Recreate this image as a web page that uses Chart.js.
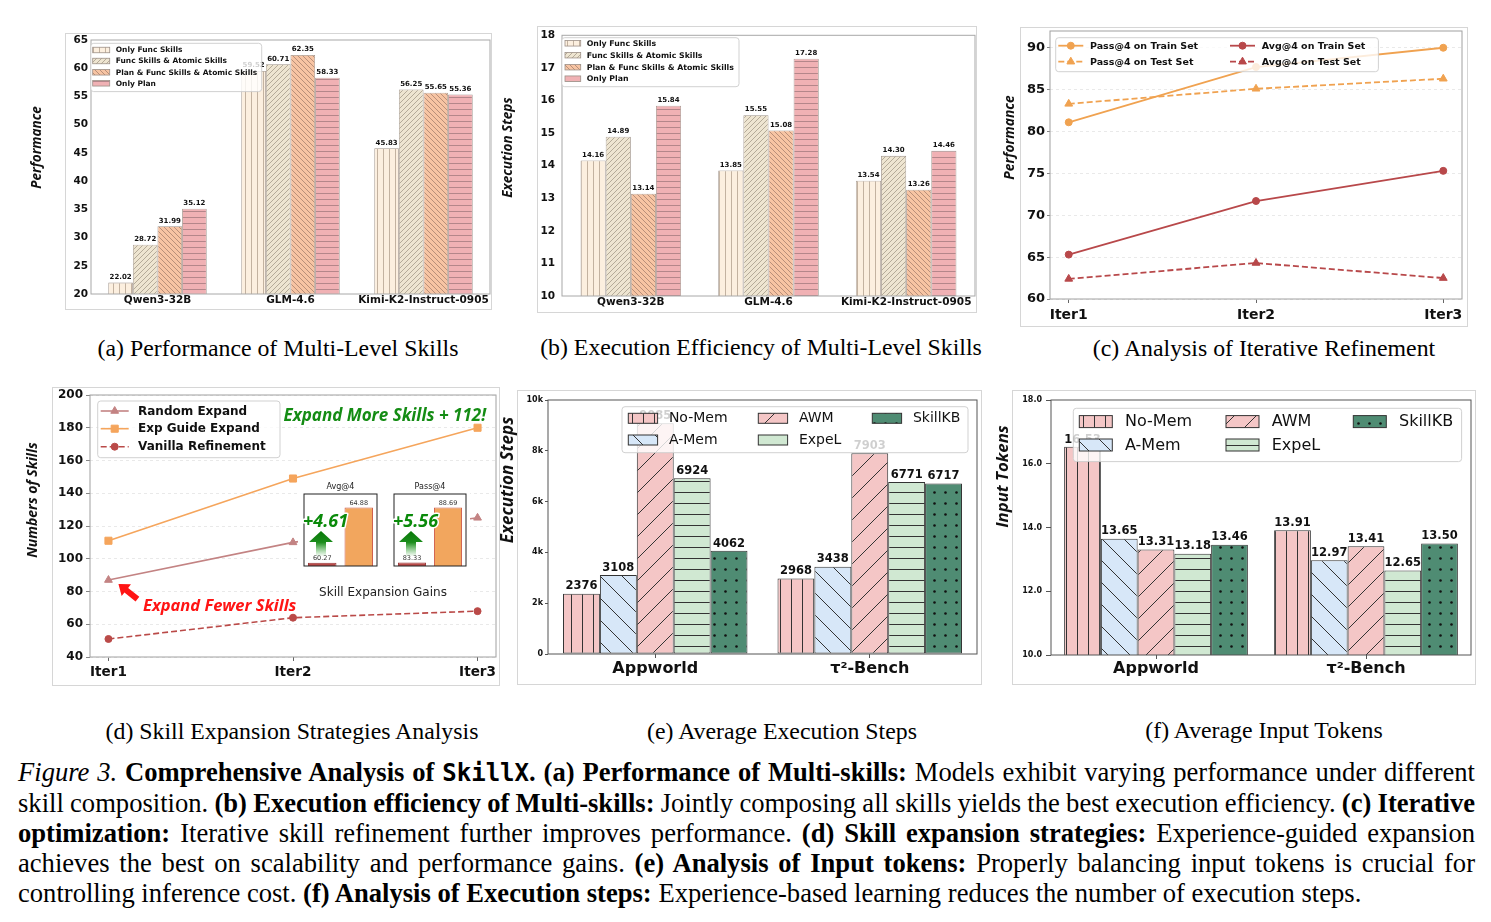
<!DOCTYPE html>
<html>
<head>
<meta charset="utf-8">
<script src="https://cdn.jsdelivr.net/npm/chart.js@4.4.1/dist/chart.umd.min.js"></script>
<style>
    body { margin: 0; background: #fff; width: 1491px; height: 922px; position: relative; overflow: hidden; }
    canvas { position: absolute; }
    .frame { position: absolute; border: 1px solid #d6d6d6; box-sizing: border-box; }
    .sub { position: absolute; font-family: 'Liberation Serif'; font-size: 23.8px; line-height: 26px; white-space: nowrap; transform: translateX(-50%); color: #000; }
    #cap { position: absolute; left: 18px; top: 757px; width: 1457px; font-family: 'Liberation Serif'; font-size: 26.6px; line-height: 30px; color: #000; }
    #cap div { white-space: nowrap; }
    .mono { font-family: 'DejaVu Sans Mono'; font-size: 24px; }
</style>
</head>
<body>

<div class="sub" style="left:278px;top:335px">(a) Performance of Multi-Level Skills</div>
<div class="sub" style="left:761px;top:334px">(b) Execution Efficiency of Multi-Level Skills</div>
<div class="sub" style="left:1264px;top:335px">(c) Analysis of Iterative Refinement</div>
<div class="sub" style="left:292px;top:718px">(d) Skill Expansion Strategies Analysis</div>
<div class="sub" style="left:782px;top:718px">(e) Average Execution Steps</div>
<div class="sub" style="left:1264px;top:717px">(f) Average Input Tokens</div>

<div id="cap">
    <div class="jl"><i>Figure 3.</i> <b>Comprehensive Analysis of <span class="mono">SkillX</span>. (a) Performance of Multi-skills:</b> Models exhibit varying performance under different</div>
    <div class="jl">skill composition. <b>(b) Execution efficiency of Multi-skills:</b> Jointly composing all skills yields the best execution efficiency. <b>(c) Iterative</b></div>
    <div class="jl"><b>optimization:</b> Iterative skill refinement further improves performance. <b>(d) Skill expansion strategies:</b> Experience-guided expansion</div>
    <div class="jl">achieves the best on scalability and performance gains. <b>(e) Analysis of Input tokens:</b> Properly balancing input tokens is crucial for</div>
    <div>controlling inference cost. <b>(f) Analysis of Execution steps:</b> Experience-based learning reduces the number of execution steps.</div>
</div>

<script>
// ---- data ----
const models = ['Qwen3-32B', 'GLM-4.6', 'Kimi-K2-Instruct-0905'];
const skillSets = ['Only Func Skills', 'Func Skills & Atomic Skills', 'Plan & Func Skills & Atomic Skills', 'Only Plan'];
const perfOnlyFunc = [22.02, 59.52, 45.83];
const perfFuncAtomic = [28.72, 60.71, 56.25];
const perfPlanFuncAtomic = [31.99, 62.35, 55.65];
const perfOnlyPlan = [35.12, 58.33, 55.36];
const stepsOnlyFunc = [14.16, 13.85, 13.54];
const stepsFuncAtomic = [14.89, 15.55, 14.30];
const stepsPlanFuncAtomic = [13.14, 15.08, 13.26];
const stepsOnlyPlan = [15.84, 17.28, 14.46];

const iters = ['Iter1', 'Iter2', 'Iter3'];
const refineNames = ['Pass@4 on Train Set', 'Pass@4 on Test Set', 'Avg@4 on Train Set', 'Avg@4 on Test Set'];
const passTrain = [81.1, 87.7, 90.0];
const passTest = [83.3, 85.1, 86.3];
const avgTrain = [65.3, 71.7, 75.3];
const avgTest = [62.4, 64.3, 62.5];

const expandNames = ['Random Expand', 'Exp Guide Expand', 'Vanilla Refinement'];
const randomExpand = [87, 110, 125];
const expGuideExpand = [111, 149, 180];
const vanillaRefine = [51, 64, 68];
const gainMetrics = ['Avg@4', 'Pass@4'];
const gainBefore = [60.27, 83.33];
const gainAfter = [64.88, 88.69];
const gainText = ['+4.61', '+5.56'];
const noteMore = 'Expand More Skills + 112!';
const noteFewer = 'Expand Fewer Skills';
const noteGains = 'Skill Expansion Gains';

const benches = ['Appworld', 'τ²-Bench'];
const memNames = ['No-Mem', 'A-Mem', 'AWM', 'ExpeL', 'SkillKB'];
const stepsNoMem = [2376, 2968];
const stepsAMem = [3108, 3438];
const stepsAWM = [9085, 7903];
const stepsExpeL = [6924, 6771];
const stepsSkillKB = [4062, 6717];
const tokNoMem = [16.53, 13.91];
const tokAMem = [13.65, 12.97];
const tokAWM = [13.31, 13.41];
const tokExpeL = [13.18, 12.65];
const tokSkillKB = [13.46, 13.50];

const FONT = 'DejaVu Sans';

// justify caption lines by spreading the spaces
document.querySelectorAll('#cap .jl').forEach(line => {
    line.style.display = 'inline-block';
    const w = line.getBoundingClientRect().width;
    line.style.display = 'block';
    const spaces = (line.textContent.match(/ /g) || []).length;
    if (spaces) line.style.wordSpacing = ((1457 - w) / spaces) + 'px';
});

function hatch(kind, bg, ink, step, lw) {
    const c = document.createElement('canvas');
    c.width = step; c.height = step;
    const g = c.getContext('2d');
    g.fillStyle = bg; g.fillRect(0, 0, step, step);
    g.strokeStyle = ink; g.fillStyle = ink; g.lineWidth = lw;
    g.beginPath();
    const m = Math.floor(step / 2) + 0.5;
    if (kind === '|') { g.moveTo(m, 0); g.lineTo(m, step); }
    if (kind === '-') { g.moveTo(0, m); g.lineTo(step, m); }
    if (kind === '/') { for (const o of [-step, 0, step]) { g.moveTo(o, step); g.lineTo(o + step, 0); } }
    if (kind === '\\') { for (const o of [-step, 0, step]) { g.moveTo(o, 0); g.lineTo(o + step, step); } }
    if (kind === '.') { g.arc(step / 2, step / 2, lw, 0, Math.PI * 2); g.fill(); }
    else g.stroke();
    return g.createPattern(c, 'repeat');
}

function place(box) {
    const c = document.createElement('canvas');
    c.width = box[2]; c.height = box[3];
    c.style.left = box[0] + 'px'; c.style.top = box[1] + 'px';
    document.body.appendChild(c);
    return c;
}

function addFrame(r) {
    const d = document.createElement('div');
    d.className = 'frame';
    d.style.cssText = `left:${r[0]}px;top:${r[1]}px;width:${r[2]}px;height:${r[3]}px`;
    document.body.appendChild(d);
}

function fitTo(box, plot) {
    return {
        padding: { top: plot[1] - box[1], right: box[0] + box[2] - plot[2], left: 0, bottom: 0 },
        yWidth: plot[0] - box[0],
        xHeight: box[1] + box[3] - plot[3]
    };
}

function drawLegend(ctx, L) {
    ctx.save();
    ctx.fillStyle = 'rgba(255,255,255,0.8)';
    ctx.strokeStyle = 'rgba(204,204,204,0.9)';
    ctx.lineWidth = 1;
    ctx.beginPath();
    ctx.roundRect(L.x, L.y, L.w, L.h, 3);
    ctx.fill(); ctx.stroke();
    ctx.font = L.font;
    ctx.textAlign = 'left';
    ctx.textBaseline = 'middle';
    L.items.forEach((it, i) => {
        const col = Math.floor(i / L.rows), row = i % L.rows;
        const x = L.x + L.colX[col], y = L.y + L.rowY[row];
        if (it.fill) {
            ctx.fillStyle = it.fill;
            ctx.fillRect(x, y - L.sh / 2, L.sw, L.sh);
            ctx.strokeStyle = it.edge; ctx.lineWidth = it.edgeWidth;
            ctx.strokeRect(x, y - L.sh / 2, L.sw, L.sh);
        } else {
            ctx.strokeStyle = it.color; ctx.lineWidth = it.width;
            ctx.setLineDash(it.dash || []);
            ctx.beginPath(); ctx.moveTo(x, y); ctx.lineTo(x + L.sw, y); ctx.stroke();
            ctx.setLineDash([]);
            ctx.fillStyle = it.color; ctx.lineWidth = 1;
            Chart.helpers.drawPoint(ctx, { pointStyle: it.marker, radius: it.radius, borderWidth: 1 }, x + L.sw / 2, y);
        }
        ctx.fillStyle = '#111';
        ctx.fillText(it.text, x + L.sw + L.gap, y + 0.5);
    });
    ctx.restore();
}

// frame of the axes, value labels, titles, legend
function decor(p) {
    return {
        id: 'decor',
        beforeDatasetsDraw(chart) {
            if (!p.plotBg) return;
            const a = chart.chartArea;
            chart.ctx.save();
            chart.ctx.fillStyle = p.plotBg;
            chart.ctx.fillRect(a.left, a.top, a.right - a.left, a.bottom - a.top);
            chart.ctx.restore();
        },
        afterDatasetsDraw(chart) {
            const ctx = chart.ctx, a = chart.chartArea;
            ctx.save();
            if (p.spine) {
                ctx.strokeStyle = p.spine; ctx.lineWidth = p.spineWidth || 1;
                ctx.strokeRect(a.left, a.top, a.right - a.left, a.bottom - a.top);
            }
            if (p.values) {
                ctx.font = p.values.font; ctx.fillStyle = p.values.color || '#111';
                ctx.textAlign = 'center'; ctx.textBaseline = 'bottom';
                chart.data.datasets.forEach((ds, i) => {
                    chart.getDatasetMeta(i).data.forEach((el, j) => {
                        ctx.fillText(p.values.fmt(ds.data[j]), el.x, el.y - p.values.gap);
                    });
                });
            }
            ctx.restore();
        },
        afterDraw(chart) {
            const ctx = chart.ctx;
            ctx.save();
            ctx.translate(-p.box[0], -p.box[1]);
            if (p.extra) { ctx.save(); p.extra(chart, ctx); ctx.restore(); }
            if (p.yTitle) {
                ctx.save();
                ctx.font = `italic bold ${p.yTitle.size}px "Open Sans"`;
                ctx.fillStyle = '#111';
                ctx.translate(p.yTitle.x, p.yTitle.y);
                ctx.rotate(-Math.PI / 2);
                ctx.textAlign = 'center'; ctx.textBaseline = 'middle';
                ctx.fillText(p.yTitle.text, 0, 0);
                ctx.restore();
            }
            if (p.legend) drawLegend(ctx, p.legend);
            ctx.restore();
        }
    };
}

const baseOpts = {
    responsive: false, animation: false, events: [], devicePixelRatio: 1,
    plugins: { legend: { display: false }, tooltip: { enabled: false } }
};

function barPanel(p) {
    addFrame(p.frame);
    const fit = fitTo(p.box, p.plot);
    new Chart(place(p.box), {
        type: 'bar',
        data: {
            labels: p.labels,
            datasets: p.series.map(s => ({
                label: s.name, data: s.data, backgroundColor: s.fill,
                borderColor: p.edge, borderWidth: p.edgeWidth, borderSkipped: false,
                categoryPercentage: p.catPct, barPercentage: 1
            }))
        },
        options: {
            ...baseOpts,
            layout: { padding: fit.padding },
            scales: {
                x: {
                    grid: { drawOnChartArea: false, drawTicks: p.xTick > 0, tickLength: p.xTick, tickColor: p.spine, offset: false },
                    border: { display: false },
                    ticks: { color: '#111', font: { family: FONT, size: p.xFont, weight: 'bold' }, padding: p.xPad, maxRotation: 0, autoSkip: false },
                    afterFit: s => { s.height = fit.xHeight; }
                },
                y: {
                    min: p.yMin, max: p.yMax,
                    grid: { drawOnChartArea: false, drawTicks: p.yTick > 0, tickLength: p.yTick, tickColor: p.spine },
                    border: { display: false },
                    ticks: { stepSize: p.yStep, callback: p.yFmt, color: '#111', font: { family: FONT, size: p.yFont, weight: 'bold' }, padding: p.yPad },
                    afterFit: s => { s.width = fit.yWidth; }
                }
            }
        },
        plugins: [decor(p)]
    });
}

function linePanel(p) {
    addFrame(p.frame);
    const fit = fitTo(p.box, p.plot);
    return new Chart(place(p.box), {
        type: 'line',
        data: {
            datasets: p.series.map(s => ({
                label: s.name, data: s.data.map((v, i) => ({ x: i, y: v })),
                borderColor: s.color, backgroundColor: s.color, borderWidth: s.width,
                borderDash: s.dash || [], pointStyle: s.marker, pointRadius: s.radius,
                pointBackgroundColor: s.color, pointBorderColor: s.color, pointBorderWidth: 1,
                tension: 0, fill: false
            }))
        },
        options: {
            ...baseOpts,
            layout: { padding: fit.padding },
            scales: {
                x: {
                    type: 'linear', min: -0.1, max: 2.1,
                    grid: { drawOnChartArea: false, tickLength: 4, tickColor: '#666' },
                    border: { display: false },
                    ticks: { stepSize: 1, includeBounds: false, callback: v => Number.isInteger(v) ? iters[v] : '',
                        color: '#111', font: { family: FONT, size: p.xFont, weight: 'bold' }, padding: p.xPad, maxRotation: 0 },
                    afterFit: s => { s.height = fit.xHeight; }
                },
                y: {
                    min: p.yMin, max: p.yMax,
                    grid: { color: '#e4e4e4', lineWidth: 0.8, tickLength: p.yTick, tickColor: '#666' },
                    border: { display: false, dash: [3, 3] },
                    ticks: { stepSize: p.yStep, includeBounds: false, color: '#111', font: { family: FONT, size: p.yFont, weight: 'bold' }, padding: p.yPad },
                    afterFit: s => { s.width = fit.yWidth; }
                }
            }
        },
        plugins: [decor(p)]
    });
}

function arrow(ctx, x0, y0, x1, y1, sw, hw, hl) {
    const len = Math.hypot(x1 - x0, y1 - y0);
    const ux = (x1 - x0) / len, uy = (y1 - y0) / len, nx = -uy, ny = ux;
    const bx = x1 - ux * hl, by = y1 - uy * hl;
    ctx.beginPath();
    ctx.moveTo(x0 + nx * sw / 2, y0 + ny * sw / 2);
    ctx.lineTo(bx + nx * sw / 2, by + ny * sw / 2);
    ctx.lineTo(bx + nx * hw / 2, by + ny * hw / 2);
    ctx.lineTo(x1, y1);
    ctx.lineTo(bx - nx * hw / 2, by - ny * hw / 2);
    ctx.lineTo(bx - nx * sw / 2, by - ny * sw / 2);
    ctx.lineTo(x0 - nx * sw / 2, y0 - ny * sw / 2);
    ctx.closePath();
    ctx.fill();
}

// ---- (a) / (b) hatches ----
const fOnlyFunc = hatch('|', '#fcefdf', '#b4a28f', 6, 0.8);
const fFuncAtomic = hatch('/', '#eee5d1', '#a49b89', 5, 0.8);
const fPlanFuncAtomic = hatch('\\', '#f7c4a3', '#a7826e', 5, 0.8);
const fOnlyPlan = hatch('-', '#f0b1b4', '#a47b7f', 6, 0.8);
const skillFills = [fOnlyFunc, fFuncAtomic, fPlanFuncAtomic, fOnlyPlan];
const skillLegendItems = skillSets.map((t, i) => ({ text: t, fill: skillFills[i], edge: '#9d9188', edgeWidth: 0.8 }));

barPanel({
    box: [20, 28, 478, 290], plot: [91, 40, 490, 294], frame: [65, 33, 427, 277],
    labels: models,
    series: [perfOnlyFunc, perfFuncAtomic, perfPlanFuncAtomic, perfOnlyPlan].map((d, i) => ({ name: skillSets[i], data: d, fill: skillFills[i] })),
    catPct: 0.74, edge: '#9d9188', edgeWidth: 0.8, spine: '#a8a8a8',
    yMin: 20, yMax: 65, yStep: 5, yFont: 10.5, yTick: 0, yPad: 3,
    xFont: 10.5, xTick: 0, xPad: 0,
    values: { font: `bold 7px ${FONT}`, gap: 2, fmt: v => v.toFixed(2) },
    yTitle: { text: 'Performance', x: 37, y: 147.5, size: 13.5 },
    legend: { x: 90.7, y: 43.3, w: 171, h: 48.3, rows: 4, colX: [2], rowY: [6.7, 17.7, 29, 40], sw: 17, sh: 5.5, gap: 6, font: `bold 7.5px ${FONT}`, items: skillLegendItems }
});

barPanel({
    box: [500, 22, 480, 295], plot: [562, 34, 975, 296], frame: [537, 26, 440, 287],
    labels: models,
    series: [stepsOnlyFunc, stepsFuncAtomic, stepsPlanFuncAtomic, stepsOnlyPlan].map((d, i) => ({ name: skillSets[i], data: d, fill: skillFills[i] })),
    catPct: 0.73, edge: '#9d9188', edgeWidth: 0.8, spine: '#a8a8a8',
    yMin: 10, yMax: 18, yStep: 1, yFont: 10.5, yTick: 0, yPad: 7,
    xFont: 10.5, xTick: 0, xPad: 0,
    values: { font: `bold 7px ${FONT}`, gap: 2, fmt: v => v.toFixed(2) },
    yTitle: { text: 'Execution Steps', x: 508, y: 147.5, size: 13.5 },
    legend: { x: 561.7, y: 37.7, w: 177.3, h: 49, rows: 4, colX: [3.3], rowY: [5.6, 17.5, 29.5, 41], sw: 15.7, sh: 5.5, gap: 6, font: `bold 7.8px ${FONT}`, items: skillLegendItems }
});

// ---- (c) iterative refinement ----
const cOrange = '#f0a250', cRed = '#b8484a';
const refineStyles = [
    { color: cOrange, marker: 'circle', radius: 3.5 },
    { color: cOrange, marker: 'triangle', radius: 4.5, dash: [6, 3] },
    { color: cRed, marker: 'circle', radius: 3.5 },
    { color: cRed, marker: 'triangle', radius: 4.5, dash: [6, 3] }
];
linePanel({
    box: [995, 18, 478, 312], plot: [1050, 31, 1462, 299], frame: [1020, 27, 448, 300],
    series: [passTrain, passTest, avgTrain, avgTest].map((d, i) => ({ name: refineNames[i], data: d, width: 1.8, ...refineStyles[i] })),
    spine: '#a0a0a0',
    yMin: 60, yMax: 92, yStep: 5, yFont: 13, yTick: 3, yPad: 2,
    xFont: 14, xPad: 3.6,
    yTitle: { text: 'Performance', x: 1010, y: 137.5, size: 13.8 },
    legend: { x: 1055.7, y: 37.7, w: 322.7, h: 34, rows: 2, colX: [2.6, 174.3], rowY: [8, 24], sw: 25, gap: 6.7, font: `bold 9.5px ${FONT}`,
        items: refineNames.map((t, i) => ({ text: t, width: 1.8, ...refineStyles[i] })) }
});

// ---- (d) skill expansion ----
const expandStyles = [
    { color: '#c38383', marker: 'triangle', radius: 4.5 },
    { color: '#f5a55c', marker: 'rect', radius: 5 },
    { color: '#ba4a48', marker: 'circle', radius: 3.5, dash: [6, 3] }
];
const boxD = [20, 382, 482, 304];
linePanel({
    box: boxD, plot: [90, 395, 496, 657], frame: [52, 387, 448, 299],
    series: [randomExpand, expGuideExpand, vanillaRefine].map((d, i) => ({ name: expandNames[i], data: d, width: 1.6, ...expandStyles[i] })),
    spine: '#a0a0a0',
    yMin: 40, yMax: 200, yStep: 20, yFont: 12, yTick: 4, yPad: 3,
    xFont: 13.6, xPad: 3,
    yTitle: { text: 'Numbers of Skills', x: 33, y: 500, size: 14 },
    legend: { x: 97.7, y: 401, w: 182.3, h: 56.7, rows: 3, colX: [3], rowY: [10, 27.7, 45.7], sw: 28, gap: 9.3, font: `bold 12px ${FONT}`,
        items: expandNames.map((t, i) => ({ text: t, width: 1.6, ...expandStyles[i] })) },
    extra(chart, ctx) {
        // white backdrop of the inset figure
        ctx.fillStyle = '#fff';
        ctx.fillRect(298, 478, 172, 124);
        ctx.font = 'italic bold 17px "Open Sans"';
        ctx.fillStyle = '#148c14'; ctx.textAlign = 'right'; ctx.textBaseline = 'middle';
        ctx.fillText(noteMore, 486, 416);
        ctx.font = 'italic bold 16.5px "Open Sans"';
        ctx.fillStyle = '#ff1414'; ctx.textAlign = 'left';
        ctx.fillText(noteFewer, 143, 606);
        const pt = chart.getDatasetMeta(0).data[0];
        const px = pt.x + boxD[0], py = pt.y + boxD[1];
        arrow(ctx, px + 29, py + 19, px + 10, py + 4, 6, 15, 10);
        ctx.font = `12px ${FONT}`; ctx.fillStyle = '#222'; ctx.textAlign = 'center';
        ctx.fillText(noteGains, 383, 593);
    }
});

function gainInset(i, box, plot, yMin, yMax) {
    const pad = { left: plot[0] - box[0], top: plot[1] - box[1], right: box[0] + box[2] - plot[2], bottom: box[1] + box[3] - plot[3] };
    new Chart(place(box), {
        type: 'bar',
        data: {
            labels: ['before', 'after'],
            datasets: [{
                data: [gainBefore[i], gainAfter[i]],
                backgroundColor: ['#b94a48', '#f2a65e'], borderColor: ['#9a3838', '#cf5e4c'], borderWidth: 1,
                categoryPercentage: 0.78, barPercentage: 1
            }]
        },
        options: {
            ...baseOpts,
            layout: { padding: pad },
            scales: { x: { display: false }, y: { display: false, min: yMin, max: yMax } }
        },
        plugins: [decor({
            box, spine: '#222', plotBg: '#fff',
            values: { font: `6.5px ${FONT}`, color: '#333', gap: 1, fmt: v => v.toFixed(2) },
            extra(chart, ctx) {
                const a = chart.chartArea, L = a.left + box[0], T = a.top + box[1];
                ctx.font = `8px ${FONT}`; ctx.fillStyle = '#222'; ctx.textAlign = 'center'; ctx.textBaseline = 'middle';
                ctx.fillText(gainMetrics[i], (L + a.right + box[0]) / 2, T - 7);
                const g = ctx.createLinearGradient(0, T + 37, 0, T + 62);
                g.addColorStop(0, '#087808'); g.addColorStop(0.45, '#1b8c1b'); g.addColorStop(1, 'rgba(60,170,60,0.05)');
                ctx.fillStyle = g;
                ctx.beginPath();
                ctx.moveTo(L + 17, T + 37);
                ctx.lineTo(L + 29, T + 48); ctx.lineTo(L + 22, T + 48); ctx.lineTo(L + 22, T + 62);
                ctx.lineTo(L + 12, T + 62); ctx.lineTo(L + 12, T + 48); ctx.lineTo(L + 5, T + 48);
                ctx.closePath(); ctx.fill();
                ctx.font = 'italic bold 18px "Open Sans"'; ctx.textAlign = 'left';
                ctx.lineWidth = 3; ctx.strokeStyle = '#fff'; ctx.lineJoin = 'round';
                ctx.strokeText(gainText[i], L - 1, T + 27.5);
                ctx.fillStyle = '#0a8a0a';
                ctx.fillText(gainText[i], L - 1, T + 27.5);
            }
        })]
    });
}
gainInset(0, [296, 478, 86, 90], [304, 494, 377, 566], 60, 66);
gainInset(1, [386, 478, 86, 90], [394, 494, 466, 566], 83, 90);

// ---- (e) / (f) memory baselines ----
const fNoMem = hatch('|', '#f4c6c6', '#333', 11, 1);
const fAMem = hatch('\\', '#d7e7f8', '#333', 22, 1);
const fAWM = hatch('/', '#f4c6c6', '#333', 22, 1);
const fExpeL = hatch('-', '#d0e8d2', '#333', 11, 1);
const fSkillKB = hatch('.', '#4f8c73', '#111', 11, 1.3);
const memFills = [fNoMem, fAMem, fAWM, fExpeL, fSkillKB];
const memLegendItems = memNames.map((t, i) => ({ text: t, fill: memFills[i], edge: '#333', edgeWidth: 1 }));

barPanel({
    box: [500, 388, 484, 297], plot: [548, 400, 977, 654], frame: [517, 390, 465, 295],
    labels: benches,
    series: [stepsNoMem, stepsAMem, stepsAWM, stepsExpeL, stepsSkillKB].map((d, i) => ({ name: memNames[i], data: d, fill: memFills[i] })),
    catPct: 0.86, edge: '#333', edgeWidth: 1, spine: '#555',
    yMin: 0, yMax: 10000, yStep: 2000, yFmt: v => v === 0 ? '0' : (v / 1000) + 'k', yFont: 8, yTick: 3, yPad: 2,
    xFont: 16, xTick: 4, xPad: 1,
    values: { font: `bold 11.5px ${FONT}`, gap: 1.5, fmt: v => String(v) },
    yTitle: { text: 'Execution Steps', x: 508, y: 480, size: 17 },
    legend: { x: 622, y: 406.7, w: 346, h: 46, rows: 2, colX: [6.3, 136.3, 250.3], rowY: [11.6, 33.3], sw: 29.3, sh: 10, gap: 11.3, font: `14px ${FONT}`, items: memLegendItems }
});

barPanel({
    box: [995, 388, 482, 297], plot: [1051, 400, 1471, 655], frame: [1012, 390, 464, 295],
    labels: benches,
    series: [tokNoMem, tokAMem, tokAWM, tokExpeL, tokSkillKB].map((d, i) => ({ name: memNames[i], data: d, fill: memFills[i] })),
    catPct: 0.875, edge: '#333', edgeWidth: 1, spine: '#555',
    yMin: 10, yMax: 18, yStep: 2, yFmt: v => v.toFixed(1), yFont: 8, yTick: 5, yPad: 4,
    xFont: 16, xTick: 4, xPad: 0,
    values: { font: `bold 11.5px ${FONT}`, gap: 1.5, fmt: v => v.toFixed(2) },
    yTitle: { text: 'Input Tokens', x: 1003, y: 476.5, size: 16.8 },
    legend: { x: 1073.3, y: 408.3, w: 388.3, h: 53.3, rows: 2, colX: [6, 152.7, 280], rowY: [13.3, 36.7], sw: 33, sh: 12, gap: 12.7, font: `16px ${FONT}`, items: memLegendItems }
});
</script>
</body>
</html>
